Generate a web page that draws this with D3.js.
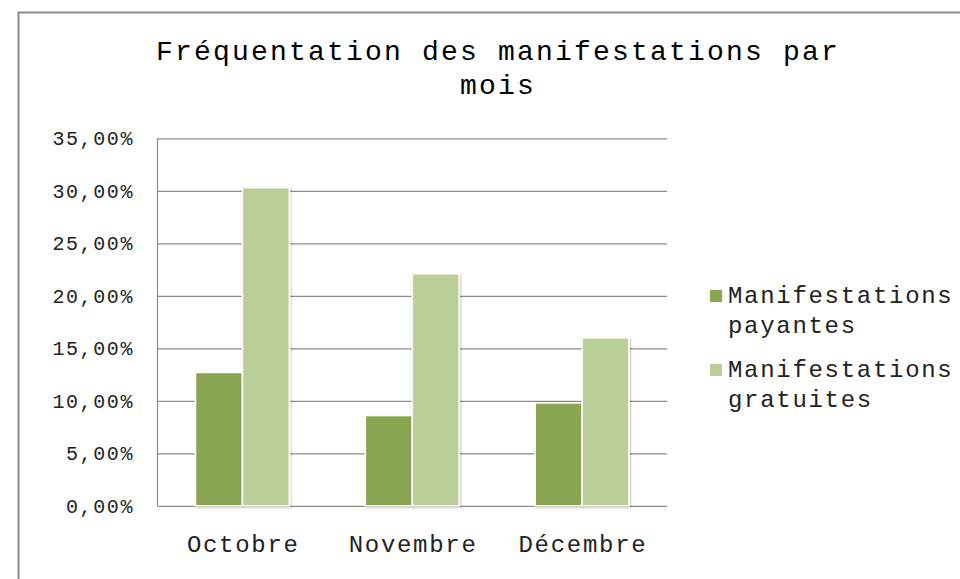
<!DOCTYPE html>
<html>
<head>
<meta charset="utf-8">
<script src="https://cdn.jsdelivr.net/npm/d3@7"></script>
<style>
  html, body { margin: 0; padding: 0; background: #fff; }
  svg { display: block; }
  text { font-family: "Liberation Mono", "Courier New", monospace; }
</style>
</head>
<body>
<svg id="chart" width="960" height="579"></svg>
<script>
const titleLines = ["Fréquentation des manifestations par", "mois"];
const categories = ["Octobre", "Novembre", "Décembre"];
const seriesNames = ["Manifestations payantes", "Manifestations gratuites"];
const legendLines = [["Manifestations", "payantes"], ["Manifestations", "gratuites"]];
const payantes = [0.127, 0.086, 0.098];
const gratuites = [0.303, 0.221, 0.160];
const yTicks = [0, 0.05, 0.10, 0.15, 0.20, 0.25, 0.30, 0.35];
const colors = ["#8aa551", "#bacf97"];

const series = [payantes, gratuites];
const svg = d3.select("#chart");

// shadow filter
const defs = svg.append("defs");
const f = defs.append("filter").attr("id", "sh").attr("x", "-20%").attr("y", "-20%").attr("width", "140%").attr("height", "140%");
f.append("feDropShadow").attr("dx", 1).attr("dy", 1).attr("stdDeviation", 1.2).attr("flood-color", "#000").attr("flood-opacity", 0.25);

// chart border (top & left)
svg.append("path")
  .attr("d", "M18.5,579 L18.5,12.5 L960,12.5")
  .attr("fill", "none").attr("stroke", "#8a8a8a").attr("stroke-width", 2);

// title
const title = svg.append("text").attr("text-anchor", "middle").attr("fill", "#000")
  .style("font-size", "28px").style("letter-spacing", "2.2px");
titleLines.forEach((t, i) => {
  title.append("tspan").attr("x", 498).attr("y", 60 + i * 34).text(t);
});

const plot = { left: 157.5, right: 667, top: 138.3, bottom: 505.8 };

const y = d3.scaleLinear().domain([0, 0.35]).range([plot.bottom, plot.top]);
const x = d3.scaleBand().domain(categories).range([plot.left, plot.right])
  .paddingInner(0.447).paddingOuter(0.2235);
const x1 = d3.scaleBand().domain(d3.range(series.length)).range([0, x.bandwidth()]).padding(0);

// gridlines
const fmt = v => d3.format(".2f")(v * 100).replace(".", ",") + "%";
const yAxis = d3.axisLeft(y).tickValues(yTicks).tickSize(-(plot.right - plot.left)).tickPadding(23.5).tickFormat(fmt);
const gy = svg.append("g").attr("transform", `translate(${plot.left},0)`).call(yAxis);
gy.select(".domain").remove();
gy.selectAll(".tick line").attr("stroke", "#8c8c8c").attr("stroke-width", 1.2);
gy.selectAll(".tick text").attr("fill", "#222").style("font-size", "20px")
  .style("letter-spacing", "1.6px")
  .style("font-family", "'Liberation Mono', monospace");

// left axis line
svg.append("line").attr("x1", plot.left).attr("x2", plot.left)
  .attr("y1", y(0.35)).attr("y2", y(0)).attr("stroke", "#8c8c8c").attr("stroke-width", 1.2);

// bars
series.forEach((vals, si) => {
  svg.append("g").selectAll("rect").data(vals).join("rect")
    .attr("x", (d, i) => x(categories[i]) + x1(si))
    .attr("y", d => y(d))
    .attr("width", x1.bandwidth())
    .attr("height", d => y(0) - y(d))
    .attr("fill", colors[si])
    .attr("stroke", "#fff").attr("stroke-width", 1.6)
    .attr("filter", "url(#sh)");
});

// x axis labels
const xAxis = d3.axisBottom(x).tickSize(0).tickPadding(29);
const gx = svg.append("g").attr("transform", `translate(0,${plot.bottom})`).call(xAxis);
gx.select(".domain").remove();
gx.selectAll(".tick text").attr("fill", "#222").style("font-size", "24px")
  .style("letter-spacing", "1.7px").attr("dx", "0.85px")
  .style("font-family", "'Liberation Mono', monospace");

// legend
const lg = svg.append("g");
legendLines.forEach((lines, i) => {
  const y0 = 303 + i * 74;
  lg.append("rect").attr("x", 710).attr("y", y0 - 13).attr("width", 12).attr("height", 12).attr("fill", colors[i]);
  const t = lg.append("text").attr("fill", "#222").style("font-size", "24px").style("letter-spacing", "1.7px");
  lines.forEach((l, j) => t.append("tspan").attr("x", 728).attr("y", y0 + j * 29.5).text(l));
});
</script>
</body>
</html>
